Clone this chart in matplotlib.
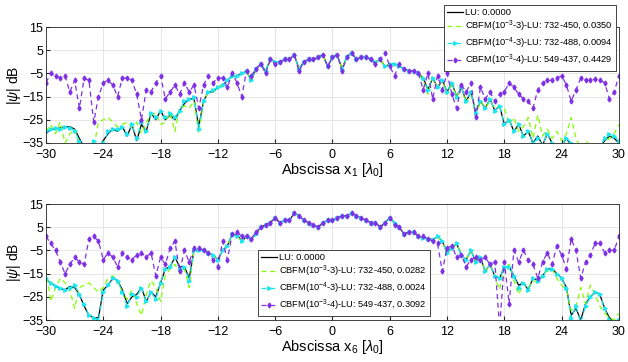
import numpy as np
import matplotlib
matplotlib.use('Agg')
import matplotlib.pyplot as plt

plt.rcParams['font.family'] = ['Liberation Sans', 'DejaVu Sans']
plt.rcParams['mathtext.fontset'] = 'custom'
plt.rcParams['mathtext.rm'] = 'Liberation Sans'
plt.rcParams['mathtext.it'] = 'Liberation Sans:italic'

# abscissa samples (lambda_0), -30 .. 30
x = np.linspace(-30, 30, 121)

# ---- panel 1 (x_1) ----
lu_1 = [-31, -29, -29, -28.5, -28, -28, -29, -33, -37, -38,
        -36, -37, -34, -31, -29, -30, -28, -32, -27, -34,
        -27, -30, -22, -25, -21, -25, -23, -25, -21, -18,
        -16, -16, -28, -17, -13, -13, -11, -10, -8, -6,
        -6, -5, -4, -8, -3, -1, -4, 1, 0, 0,
        1, 1, 3, -3, 0, 1, 1, 2, 3, -2,
        2, 3, -3, 2, 4, 1, 2, 2, 1, 0,
        1, -2, -1, -1, -2, -3, -4, -4, -5, -7,
        -12, -7, -11, -8, -13, -9, -15, -11, -17, -13,
        -22, -17, -20, -16, -21, -19, -27, -25, -30, -27,
        -32, -30, -35, -32, -36, -31, -35, -38, -36, -33,
        -36, -40, -40, -42, -40, -38, -37, -34, -32, -33,
        -35]
g33_1 = [-30, -27, -31, -26, -35, -31, -29, -36, -37, -36,
         -37, -26, -25, -24, -26, -28, -27, -26, -28, -26,
         -31, -26, -23, -22, -27, -26, -22, -30, -20, -19,
         -20, -17, -31, -17, -13, -13, -11, -10, -8, -6,
         -6, -5, -4, -8, -3, -1, -4, 1, 0, 0,
         1, 1, 3, -3, 0, 1, 1, 2, 3, -2,
         2, 3, -3, 2, 4, 1, 2, 2, 1, 0,
         1, -2, -1, -1, -2, -3, -4, -4, -5, -8,
         -14, -7, -11, -8, -14, -10, -15, -11, -18, -13,
         -23, -17, -20, -17, -20, -19, -20, -27, -24, -30,
         -28, -24, -33, -23, -32, -29, -33, -30, -34, -31,
         -24, -33, -37, -34, -36, -40, -38, -35, -33, -31,
         -27]
g43_1 = [-30, -29, -28.5, -29, -28, -28.5, -30, -34, -38, -37,
         -34, -37, -35, -30, -29, -29, -28, -31, -27, -33,
         -26, -30, -22, -24, -21, -24, -22, -24, -21, -17,
         -16, -15, -29, -17, -13, -12, -11, -10, -8, -6,
         -6, -5, -4, -8, -3, -1, -4, 1, 0, 0,
         1, 1, 3, -3, 0, 1, 1, 2, 3, -2,
         2, 3, -3, 2, 4, 1, 2, 2, 1, 0,
         1, -2, -1, -1, -2, -3, -4, -4, -5, -7,
         -12, -7, -11, -8, -13, -9, -15, -11, -17, -13,
         -22, -17, -20, -16, -21, -19, -27, -25, -30, -27,
         -32, -30, -35, -33, -36, -31, -35, -38, -36, -33,
         -35, -40, -40, -42, -40, -38, -37, -33, -31, -32,
         -34]
g34_1 = [-9, -5, -6, -7, -6, -13, -8, -20, -7, -8,
         -26, -15, -9, -8, -10, -15, -7, -7, -8, -14,
         -25, -12, -13, -9, -6, -16, -13, -10, -14, -9,
         -13, -10, -20, -10, -6, -9, -7, -7, -11, -5,
         -9, -15, -4, -6, -3, -1, -5, 1, -1, 0,
         1, 1, 3, -4, 0, 1, 1, 2, 3, -2,
         2, 3, -4, 2, 4, 1, 2, 2, 1, -1,
         1, 4, -2, -6, -1, -3, -4, -4, -5, -12,
         -5, -16, -6, -12, -5, -14, -20, -10, -13, -9,
         -24, -11, -16, -13, -17, -14, -13, -9, -11, -14,
         -16, -17, -20, -12, -9, -8, -8, -7, -6, -10,
         -17, -12, -7, -8, -8, -7.5, -8, -9, -16, -13,
         -6]

# ---- panel 2 (x_6) ----
lu_6 = [-17.5, -19, -20.5, -21.5, -22, -20.5, -21, -24, -29, -33,
        -34, -34, -22, -20, -17, -18, -22, -28, -25, -24,
        -21, -27, -23, -25, -19, -13, -12, -8, -12, -12,
        -17, -5, -5, -5, -6, -7, -9, -5, -3, 2,
        1.8, -1, 1, 0, 2, 5, 6, 7, 9, 7,
        8, 8, 11, 10, 8, 7, 6, 5, 7, 8,
        8, 9, 10, 10, 11, 10, 9, 8, 7, 7,
        5, 7, 9, 7, 5, 2, 3, 3, 1, 0.5,
        0, -0.3, 1, -1, -6, -4, -2, -7, -9, -5,
        -10, -8, -14, -11, -16, -17, -12, -12, -16, -20,
        -19, -22, -17, -18, -16, -13, -13, -15, -17, -21,
        -33, -30, -35, -28, -25, -23, -24, -30, -34, -36,
        -35]
g33_6 = [-13, -27, -21, -17, -19, -22, -30, -21, -20, -19,
         -21, -23, -21, -17, -16, -18, -23, -26, -22, -28,
         -33, -24, -18, -21, -27, -16, -13, -11, -15, -13,
         -21, -5, -5, -5, -6, -7, -9, -5, -3, 2,
         1, -1, 1, 0, 2, 5, 6, 7, 9, 7,
         8, 8, 11, 10, 8, 7, 6, 5, 7, 8,
         8, 9, 10, 10, 11, 10, 9, 8, 7, 7,
         5, 7, 9, 7, 5, 2, 3, 3, 1, 0.5,
         0, -0.3, 1, -1, -6, -4, -2, -7, -9, -5,
         -10, -8, -14, -11, -16, -22, -12, -11, -18, -24,
         -19, -21, -18, -19, -15, -14, -13, -17, -20, -22,
         -31, -29, -21, -28, -20, -24, -29, -32, -34, -35,
         -32]
g43_6 = [-17, -19, -20.5, -21, -22, -21, -20, -24, -28, -33,
         -34, -35, -23, -20, -17, -18, -23, -29, -24, -25,
         -21, -27, -23, -26, -19, -13, -12, -8, -13, -12,
         -18, -5, -5, -5, -6, -7, -9, -5, -3, 2,
         1, -1, 1, 0, 2, 5, 6, 7, 9, 7,
         8, 8, 11, 10, 8, 7, 6, 5, 7, 8,
         8, 9, 10, 10, 11, 10, 9, 8, 7, 7,
         5, 7, 9, 7, 5, 2, 3, 3, 1, 0.5,
         0, -0.3, 1, -1, -6, -4, -2, -7, -9, -5,
         -10, -8, -14, -11, -16, -17, -12, -12, -16, -21,
         -19, -22, -17, -18, -16, -13, -13, -15, -17, -21,
         -34, -29, -36, -29, -25, -23, -24, -30, -35, -36,
         -35]
g34_6 = [1, -2, -5, -10, -15, -11, -8, -10, -11, 0,
         1, -1, -9, -6, -8, -12, -6, -8, -9, -7,
         -6, -8, -6, -16, -8, -11, -4, -1, -14, -5,
         -10, -4, -4, -5, -6, -9, -12, -1, -9, 2,
         3, 1, 1, 0, 3, 5, 6, 7, 9, 7,
         8, 8, 11, 10, 8, 7, 6, 5, 7, 8,
         8, 9, 10, 10, 11, 10, 9, 8, 7, 7,
         5, 7, 9, 6, 5, 2, 3, 3, 1, 1,
         0, -1, -2, -14, -4, -3, -8, -7, -12, -9,
         -8, -9, -8, -11, -10, -38, -10, -28, -5, -10,
         -5, -9, -11, -17, -10, -6, -11, -3, -7, -13,
         0, -5, -17, -10, -7, -2, -2, -6, -5, -5,
         1]

labels_1 = ['LU: 0.0000',
            'CBFM(10$^{-3}$-3)-LU: 732-450, 0.0350',
            'CBFM(10$^{-4}$-3)-LU: 732-488, 0.0094',
            'CBFM(10$^{-3}$-4)-LU: 549-437, 0.4429']
labels_6 = ['LU: 0.0000',
            'CBFM(10$^{-3}$-3)-LU: 732-450, 0.0282',
            'CBFM(10$^{-4}$-3)-LU: 732-488, 0.0024',
            'CBFM(10$^{-3}$-4)-LU: 549-437, 0.3092']

c_lu = 'black'
c_g33 = '#80FF00'
c_g43 = '#1AE6F0'
c_g34 = '#8030E6'

fig = plt.figure(figsize=(6.28, 3.62), dpi=100)
ax1 = fig.add_axes([0.0732, 0.605, 0.9124, 0.3204])
ax2 = fig.add_axes([0.0732, 0.116, 0.9124, 0.3204])


def draw(ax, lu, g33, g43, g34, labels, sub):
    ax.plot(x, lu, color=c_lu, lw=0.9, label=labels[0])
    ax.plot(x, g33, color=c_g33, lw=0.9, ls=(0, (4, 3)), label=labels[1])
    ax.plot(x, g43, color=c_g43, lw=0.9, ls=(0, (4, 3)), marker='>', ms=2.5,
            label=labels[2])
    ax.plot(x, g34, color=c_g34, lw=0.9, ls=(0, (4, 3)), marker='d', ms=2.5,
            label=labels[3])
    ax.set_xlim(-30, 30)
    ax.set_ylim(-35, 15)
    ax.set_xticks(np.arange(-30, 31, 6))
    ax.set_yticks([15, 5, -5, -15, -25, -35])
    ax.grid(True, color='#e6e6e6', lw=0.7)
    ax.set_axisbelow(True)
    ax.tick_params(direction='in', labelsize=9, length=3, color='#262626')
    ax.tick_params(axis='y', pad=2)
    ax.tick_params(axis='x', pad=4)
    for s in ax.spines.values():
        s.set_color('#262626')
        s.set_linewidth(0.6)
    ax.set_ylabel(r'|$\psi$| dB', fontsize=10, labelpad=-1)
    ax.set_xlabel(r'Abscissa x$_{%s}$ [$\lambda_0$]' % sub, fontsize=10.5,
                  labelpad=0)


draw(ax1, lu_1, g33_1, g43_1, g34_1, labels_1, '1')
draw(ax2, lu_6, g33_6, g43_6, g34_6, labels_6, '6')

leg_kw = dict(fontsize=6.7, fancybox=False, edgecolor='#262626', framealpha=1,
              borderpad=0.3, labelspacing=0.18, handlelength=1.7,
              handletextpad=0.3, borderaxespad=0)
l1 = ax1.legend(loc='upper right', bbox_to_anchor=(616 / 628, 1 - 5 / 362),
                bbox_transform=fig.transFigure, **leg_kw)
l2 = ax2.legend(loc='upper left', bbox_to_anchor=(258 / 628, 1 - 250 / 362),
                bbox_transform=fig.transFigure, **leg_kw)
for l in (l1, l2):
    l.get_frame().set_linewidth(0.6)

fig.savefig('out.png', dpi=100)
